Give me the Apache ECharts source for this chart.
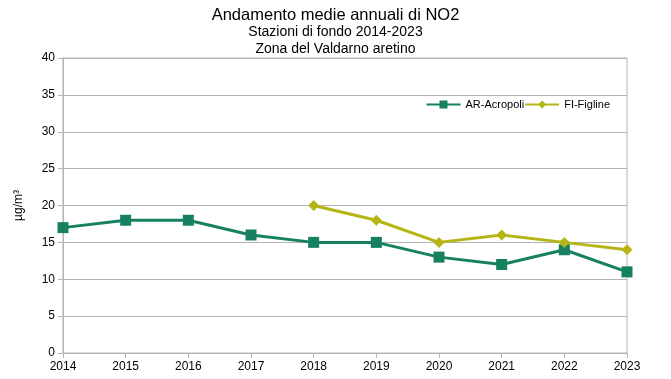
<!DOCTYPE html>
<html><head><meta charset="utf-8">
<script src="https://cdn.jsdelivr.net/npm/echarts@6/dist/echarts.min.js"></script>
<style>html,body{margin:0;padding:0;background:#fff}#c{width:671px;height:379px}</style>
</head><body><div id="c"></div>
<script>
const years = ['2014','2015','2016','2017','2018','2019','2020','2021','2022','2023'];
const acropoli = [17,18,18,16,15,15,13,12,14,11];
const figline = [null,null,null,null,20,18,15,16,15,14];
const yTicks = {min:0,max:40,interval:5};
const chart = echarts.init(document.getElementById('c'));
const font = 'Liberation Sans, Arial, sans-serif';
chart.setOption({
  animation:false,
  backgroundColor:'#fff',
  title:[
    {text:'Andamento medie annuali di NO2',left:'center',top:2,textStyle:{fontFamily:font,fontSize:16.5,fontWeight:'normal',color:'#000'}},
    {text:'Stazioni di fondo 2014-2023',left:'center',top:20,textStyle:{fontFamily:font,fontSize:14,fontWeight:'normal',color:'#000'}},
    {text:'Zona del Valdarno aretino',left:'center',top:37,textStyle:{fontFamily:font,fontSize:14,fontWeight:'normal',color:'#000'}}
  ],
  legend:{right:56,top:94,itemWidth:34,itemHeight:10,itemGap:0,textStyle:{fontFamily:font,fontSize:11,color:'#000'},data:['AR-Acropoli','FI-Figline']},
  grid:{left:63,right:44,top:58,bottom:26,show:true,borderColor:'#b3b3b3',borderWidth:1},
  xAxis:{type:'category',data:years,boundaryGap:false,
    axisLine:{lineStyle:{color:'#b3b3b3'}},axisTick:{show:true,length:5,lineStyle:{color:'#b3b3b3'}},
    axisLabel:{fontFamily:font,fontSize:12,color:'#000',margin:8,showMinLabel:true,showMaxLabel:true},splitLine:{show:false}},
  yAxis:{type:'value',min:yTicks.min,max:yTicks.max,interval:yTicks.interval,
    name:'µg/m³',nameLocation:'middle',nameGap:38,nameTextStyle:{fontFamily:font,fontSize:12,color:'#000'},
    axisLine:{show:true,lineStyle:{color:'#b3b3b3'}},axisTick:{show:true,length:5,lineStyle:{color:'#b3b3b3'}},
    axisLabel:{fontFamily:font,fontSize:12,color:'#000',margin:8},splitLine:{lineStyle:{color:'#b3b3b3'}}},
  series:[
    {name:'AR-Acropoli',type:'line',data:acropoli,symbol:'rect',symbolSize:11,
     itemStyle:{color:'#168060'},lineStyle:{width:3,color:'#168060'}},
    {name:'FI-Figline',type:'line',data:figline,symbol:'diamond',symbolSize:11,connectNulls:false,
     itemStyle:{color:'#b5b516'},lineStyle:{width:3,color:'#b5b516'}}
  ]
});
</script></body></html>
